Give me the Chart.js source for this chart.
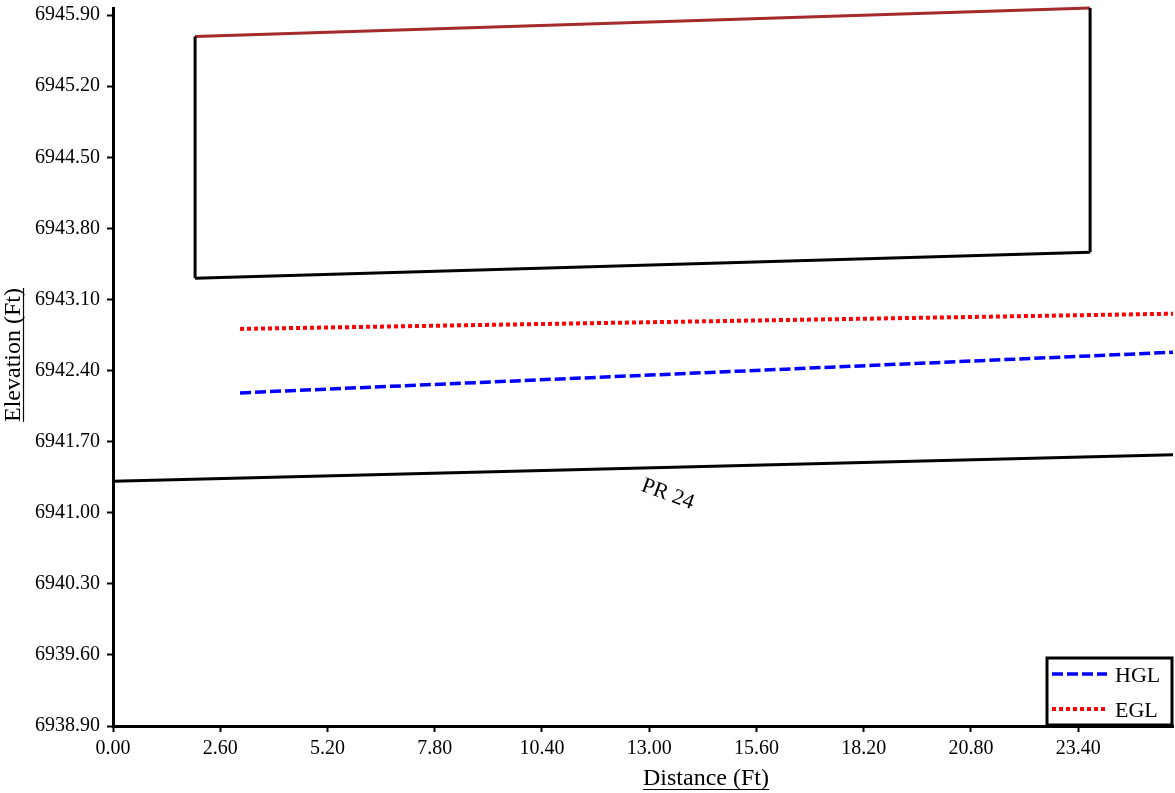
<!DOCTYPE html>
<html>
<head>
<meta charset="utf-8">
<script src="https://cdn.jsdelivr.net/npm/chart.js@4/dist/chart.umd.min.js"></script>
<style>
  body { margin: 0; background: #fff; }
  canvas { display: block; }
</style>
</head>
<body>
<canvas id="profile" width="1175" height="793"></canvas>
<script>
// pipe run PR 24
const pipeX = [1.99, 23.69];
const crownY = [6945.69, 6945.97];
const invertY = [6943.31, 6943.565];
const gradeX = [3.08, 25.7];
const hglY = [6942.18, 6942.58];
const eglY = [6942.81, 6942.96];
const groundX = [0, 25.7];
const groundY = [6941.31, 6941.57];
const groundLabel = { text: "PR 24", x: 13.45, y: 6941.18 };

const xTicks = [0, 2.6, 5.2, 7.8, 10.4, 13, 15.6, 18.2, 20.8, 23.4];
const yTicks = [6938.9, 6939.6, 6940.3, 6941.0, 6941.7, 6942.4, 6943.1, 6943.8, 6944.5, 6945.2, 6945.9];

const FONT = "Liberation Serif";

const pts = (xs, ys) => xs.map((x, i) => ({ x: x, y: ys[i] }));

const line = (label, data, color, width, dash) => ({
  label: label,
  data: data,
  showLine: true,
  borderColor: color,
  backgroundColor: color,
  borderWidth: width,
  borderDash: dash || [],
  pointRadius: 0,
  pointHoverRadius: 0,
  clip: 6
});

// titles underlined, label on ground line, boxed legend
const extras = {
  id: "extras",
  afterDraw(chart) {
    const ctx = chart.ctx;
    const xs = chart.scales.x, ys = chart.scales.y;
    ctx.save();
    ctx.fillStyle = "#000";
    ctx.strokeStyle = "#000";
    ctx.font = "24px '" + FONT + "'";
    ctx.textBaseline = "alphabetic";

    // x title
    let t = "Distance (Ft)";
    let w = ctx.measureText(t).width;
    ctx.textAlign = "left";
    ctx.fillText(t, 706 - w / 2, 785);
    ctx.lineWidth = 1.2;
    ctx.beginPath();
    ctx.moveTo(706 - w / 2, 789.5);
    ctx.lineTo(706 + w / 2, 789.5);
    ctx.stroke();

    // y title
    t = "Elevation (Ft)";
    w = ctx.measureText(t).width;
    ctx.save();
    ctx.translate(20, 355);
    ctx.rotate(-Math.PI / 2);
    ctx.fillText(t, -w / 2, 0);
    ctx.beginPath();
    ctx.moveTo(-w / 2, 3.5);
    ctx.lineTo(w / 2, 3.5);
    ctx.stroke();
    ctx.restore();

    // pipe label
    ctx.font = "22px '" + FONT + "'";
    ctx.save();
    ctx.translate(xs.getPixelForValue(groundLabel.x), ys.getPixelForValue(groundLabel.y));
    ctx.rotate(20 * Math.PI / 180);
    ctx.textAlign = "center";
    ctx.textBaseline = "middle";
    ctx.fillText(groundLabel.text, 0, 0);
    ctx.restore();

    // legend
    const lx = 1047, ly = 658, lw = 125, lh = 67;
    ctx.fillStyle = "#fff";
    ctx.fillRect(lx, ly, lw, lh);
    ctx.lineWidth = 3;
    ctx.strokeRect(lx, ly, lw, lh);
    const items = [chart.data.datasets[4], chart.data.datasets[5]];
    items.forEach((ds, i) => {
      const y = 674 + i * 35;
      ctx.strokeStyle = ds.borderColor;
      ctx.lineWidth = ds.borderWidth;
      ctx.setLineDash(ds.borderDash);
      ctx.beginPath();
      ctx.moveTo(1052, y);
      ctx.lineTo(1107, y);
      ctx.stroke();
      ctx.setLineDash([]);
      ctx.fillStyle = "#000";
      ctx.textAlign = "left";
      ctx.textBaseline = "middle";
      ctx.fillText(ds.label, 1115, y + 2);
    });
    ctx.restore();
  }
};

const chart = new Chart(document.getElementById("profile"), {
  type: "scatter",
  data: {
    datasets: [
      line("Ground", pts(groundX, groundY), "#000", 3),
      line("Invert", pts(pipeX, invertY), "#000", 3),
      line("Start", pts([pipeX[0], pipeX[0]], [invertY[0], crownY[0]]), "#000", 3),
      line("End", pts([pipeX[1], pipeX[1]], [invertY[1], crownY[1]]), "#000", 3),
      line("HGL", pts(gradeX, hglY), "#0000ff", 3.5, [11, 4]),
      line("EGL", pts(gradeX, eglY), "#ff0000", 4, [4, 3]),
      line("Crown", pts(pipeX, crownY), "#a52a2a", 3)
    ]
  },
  options: {
    responsive: false,
    animation: false,
    layout: { padding: { top: 8, right: 2, left: 0, bottom: 0 } },
    plugins: {
      legend: { display: false },
      tooltip: { enabled: false }
    },
    scales: {
      x: {
        type: "linear",
        min: 0,
        max: 25.7,
        afterBuildTicks: (s) => { s.ticks = xTicks.map(v => ({ value: v })); },
        afterFit: (s) => { s.height = 67; s.paddingLeft = 0; s.paddingRight = 0; },
        grid: { drawOnChartArea: false, drawTicks: true, tickLength: 6, tickWidth: 2, tickColor: "#000" },
        border: { color: "#000", width: 3 },
        ticks: {
          color: "#000",
          padding: 5,
          maxRotation: 0,
          autoSkip: false,
          font: { family: FONT, size: 20 },
          callback: (v) => Number(v).toFixed(2)
        }
      },
      y: {
        type: "linear",
        min: 6938.9,
        max: 6945.97,
        afterBuildTicks: (s) => { s.ticks = yTicks.map(v => ({ value: v })); },
        afterFit: (s) => { s.width = 113; s.paddingTop = 0; s.paddingBottom = 0; },
        grid: { drawOnChartArea: false, drawTicks: true, tickLength: 6, tickWidth: 2, tickColor: "#000" },
        border: { color: "#000", width: 3 },
        ticks: {
          color: "#000",
          padding: 7,
          autoSkip: false,
          font: { family: FONT, size: 20 },
          callback: (v) => Number(v).toFixed(2)
        }
      }
    }
  },
  plugins: [extras]
});
</script>
</body>
</html>
